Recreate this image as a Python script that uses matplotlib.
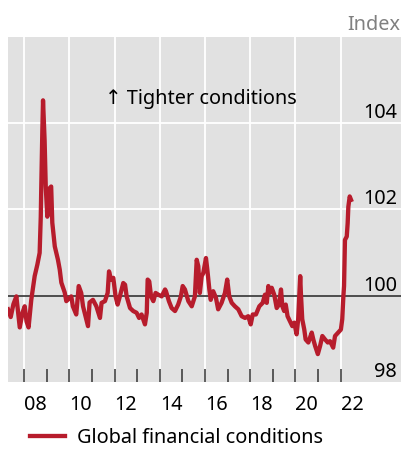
import matplotlib
matplotlib.use('Agg')
import matplotlib.pyplot as plt
import numpy as np

# Global financial conditions index, decimal years
years = [2007.28, 2007.40, 2007.52, 2007.65, 2007.80, 2007.92, 2008.02, 2008.10, 2008.19,
         2008.31, 2008.46, 2008.58, 2008.68, 2008.73, 2008.75, 2008.80, 2008.83, 2008.90,
         2008.95, 2009.02, 2009.12, 2009.19, 2009.24, 2009.35, 2009.49, 2009.57, 2009.64,
         2009.79, 2009.86, 2010.08, 2010.15, 2010.30, 2010.41, 2010.52, 2010.60, 2010.82,
         2010.89, 2011.04, 2011.19, 2011.35, 2011.42, 2011.57, 2011.69, 2011.75, 2011.84,
         2011.94, 2012.04, 2012.13, 2012.23, 2012.38, 2012.46, 2012.53, 2012.68, 2012.82,
         2012.97, 2013.08, 2013.19, 2013.34, 2013.42, 2013.46, 2013.53, 2013.61, 2013.71,
         2013.81, 2013.93, 2014.08, 2014.23, 2014.27, 2014.40, 2014.52, 2014.67, 2014.81,
         2014.93, 2015.01, 2015.11, 2015.26, 2015.41, 2015.55, 2015.63, 2015.70, 2015.77,
         2015.85, 2015.92, 2016.04, 2016.10, 2016.19, 2016.25, 2016.36, 2016.48, 2016.58,
         2016.73, 2016.88, 2016.98, 2017.07, 2017.18, 2017.32, 2017.47, 2017.62, 2017.77,
         2017.91, 2018.02, 2018.11, 2018.25, 2018.40, 2018.55, 2018.65, 2018.73, 2018.80,
         2018.87, 2018.95, 2019.06, 2019.17, 2019.27, 2019.36, 2019.42, 2019.50, 2019.57,
         2019.65, 2019.76, 2019.86, 2019.95, 2020.05, 2020.12, 2020.17, 2020.21, 2020.24,
         2020.30, 2020.39, 2020.45, 2020.57, 2020.72, 2020.79, 2020.87, 2020.99, 2021.09,
         2021.19, 2021.31, 2021.43, 2021.53, 2021.67, 2021.75, 2021.89, 2022.01, 2022.07,
         2022.12, 2022.15, 2022.19, 2022.27, 2022.31, 2022.34, 2022.40, 2022.46]
values = [99.68, 99.50, 99.80, 99.98, 99.26, 99.60, 99.75, 99.40, 99.26,
          99.90, 100.45, 100.72, 100.99, 101.83, 102.45, 103.84, 104.53, 103.60,
          102.53, 101.83, 102.49, 102.53, 101.69, 101.14, 100.83, 100.60, 100.30,
          100.07, 99.87, 99.98, 99.75, 99.56, 100.22, 100.06, 99.75, 99.29,
          99.84, 99.90, 99.75, 99.48, 99.83, 99.87, 100.06, 100.56, 100.37,
          100.41, 99.98, 99.79, 99.98, 100.29, 100.25, 99.98, 99.71, 99.64,
          99.60, 99.48, 99.56, 99.33, 99.60, 100.37, 100.33, 99.98, 99.87,
          100.06, 100.02, 99.98, 100.14, 100.10, 99.87, 99.71, 99.64, 99.79,
          99.98, 100.22, 100.14, 99.87, 99.75, 99.98, 100.83, 100.68, 100.06,
          100.45, 100.52, 100.87, 100.60, 100.14, 99.90, 100.10, 99.95, 99.68,
          99.83, 100.06, 100.37, 99.98, 99.83, 99.75, 99.68, 99.52, 99.48,
          99.52, 99.33, 99.56, 99.56, 99.75, 99.83, 100.02, 99.83, 100.22,
          100.06, 100.18, 100.02, 99.71, 99.79, 100.14, 99.75, 99.64, 99.79,
          99.52, 99.40, 99.29, 99.37, 99.10, 99.45, 99.98, 100.45, 100.06,
          99.45, 99.21, 98.98, 98.91, 99.14, 98.98, 98.83, 98.64, 98.83,
          99.06, 98.98, 98.91, 98.94, 98.79, 99.06, 99.14, 99.21, 99.45,
          99.98, 100.22, 101.29, 101.37, 101.68, 102.06, 102.30, 102.22]

year_ticks = list(range(2008, 2023))
year_labels = ['08', '10', '12', '14', '16', '18', '20', '22']
y_labels = [98, 100, 102, 104]

red = '#b71c2c'
bg = '#e1e1e1'
fs = 14.3
font = ['Noto Sans', 'DejaVu Sans']
plt.rcParams['font.family'] = font

fig = plt.figure(figsize=(4.02, 4.49), dpi=100)
ax = fig.add_axes([8/402, 1 - 381.7/449, 393/402, (381.7 - 37)/449])
ax.set_facecolor(bg)

ax.set_xlim(2007.28, 2024.67)
ax.set_ylim(98, 106)

# white grid
for yr in range(2008, 2023, 2):
    ax.axvline(yr, color='white', lw=1.3, zorder=1)
for v in [102, 104]:
    ax.axhline(v, color='white', lw=1.3, zorder=1)
ax.axhline(100, color='#333333', lw=1.2, zorder=2)

ax.plot(years, values, color=red, lw=3.1, solid_joinstyle='round', zorder=3,
        label='Global financial conditions')

for sp in ax.spines.values():
    sp.set_visible(False)

# year ticks inside, labels at mid-year
ax.set_xticks(year_ticks)
ax.set_xticklabels([])
ax.tick_params(axis='x', which='major', direction='in', length=9.5, width=1.1,
               color='#333333')
ax.set_xticks([int('20' + s) + 0.5 for s in year_labels], minor=True)
ax.set_xticklabels(year_labels, minor=True, fontsize=fs)
ax.tick_params(axis='x', which='minor', length=0, pad=9.5)
ax.set_yticks([])

for v in y_labels:
    ax.text(0.99, v, str(v), transform=ax.get_yaxis_transform(), ha='right',
            va='bottom', fontsize=fs)

ax.text(2011.57, 104.56, '\u2191 Tighter conditions', fontsize=fs, va='center',
        ha='left', family=font)

fig.text(400/402, 1 - 25/449, 'Index', color='#808080', fontsize=fs,
         ha='right', va='center')

fig.legend(loc='center left', bbox_to_anchor=(30/402, 1 - 438/449), frameon=False,
           fontsize=fs, handlelength=1.75, handletextpad=0.6, borderpad=0,
           borderaxespad=0)

fig.savefig('out.png', dpi=100)
